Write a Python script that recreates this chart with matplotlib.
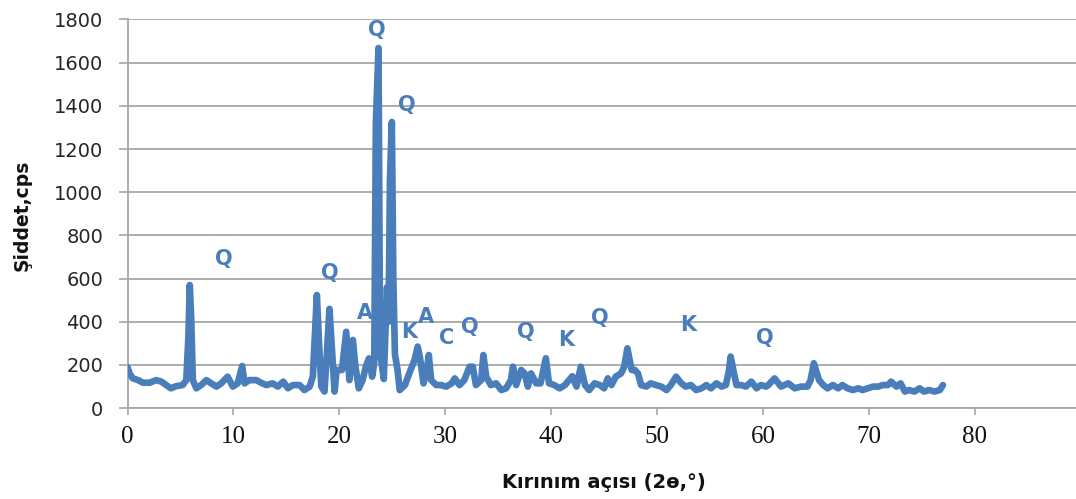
import matplotlib
matplotlib.use("Agg")
import matplotlib.pyplot as plt

# XRD pattern (2-theta, counts per second)
two_theta = [0.0, 0.2, 0.5, 1.0, 1.45, 2.1, 2.7, 3.2, 3.65, 4.1, 4.6, 5.2, 5.55, 5.75, 5.88,
             6.02, 6.17, 6.5, 6.95, 7.45, 7.9, 8.4, 8.85, 9.45, 9.95, 10.4, 10.83, 11.05,
             11.5, 12.15, 12.6, 13.1, 13.7, 14.2, 14.7, 15.15, 15.6, 16.25, 16.7, 17.2,
             17.5, 17.88, 18.13, 18.3, 18.6, 18.82, 19.07, 19.33, 19.55, 19.75, 20.25,
             20.65, 20.95, 21.28, 21.5, 21.84, 22.2, 22.5, 22.8, 23.1, 23.3, 23.45, 23.7,
             23.85, 24.2, 24.5, 24.65, 24.78, 24.96, 25.1, 25.25, 25.5, 25.7, 26.2, 26.6,
             27.1, 27.4, 27.6, 27.95, 28.25, 28.45, 28.67, 29.15, 29.6, 30.1, 30.6, 30.9,
             31.35, 31.8, 32.3, 32.6, 32.9, 33.4, 33.6, 33.87, 34.3, 34.8, 35.3, 35.75,
             36.2, 36.4, 36.7, 37.17, 37.5, 37.8, 38.1, 38.6, 39.0, 39.5, 39.8, 40.3,
             40.8, 41.3, 41.7, 42.0, 42.4, 42.8, 43.2, 43.6, 44.1, 44.6, 45.0, 45.35,
             45.7, 46.1, 46.6, 46.9, 47.2, 47.6, 47.9, 48.2, 48.5, 49.0, 49.4, 49.9,
             50.4, 50.9, 51.3, 51.8, 52.3, 52.7, 53.2, 53.7, 54.2, 54.65, 55.1, 55.6,
             56.1, 56.5, 56.8, 56.95, 57.2, 57.5, 57.95, 58.4, 58.9, 59.4, 59.8, 60.3,
             60.5, 61.1, 61.7, 62.4, 63.0, 63.6, 64.2, 64.5, 64.8, 65.0, 65.3, 65.7,
             66.1, 66.6, 67.1, 67.5, 68.0, 68.5, 69.0, 69.4, 69.9, 70.4, 70.9, 71.3,
             71.8, 72.1, 72.6, 73.0, 73.4, 73.8, 74.3, 74.8, 75.2, 75.7, 76.2, 76.7, 77.0]
intensity = [190, 160, 138, 130, 118, 118, 130, 123, 107, 92, 102, 107, 130, 330, 570,
             408, 130, 92, 107, 130, 115, 100, 115, 146, 100, 115, 195, 115,
             130, 130, 118, 107, 115, 100, 123, 92, 107, 107, 84, 100,
             146, 524, 254, 100, 77, 250, 460, 250, 77, 177, 177,
             354, 130, 316, 200, 92, 130, 192, 231, 146, 210, 1320, 1668,
             260, 135, 560, 400, 1056, 1325, 600, 250, 177, 84, 107, 161,
             223, 285, 239, 115, 177, 246, 130, 107, 107, 100, 115, 138,
             107, 130, 192, 192, 107, 130, 246, 146, 107, 115, 84, 92,
             130, 192, 107, 177, 161, 100, 161, 115, 115, 231, 115, 107,
             92, 107, 130, 148, 100, 192, 107, 84, 115, 107, 92, 138,
             107, 146, 161, 192, 277, 177, 177, 161, 107, 100, 115, 107,
             100, 84, 107, 146, 115, 100, 107, 84, 92, 107, 92, 115,
             100, 107, 177, 239, 177, 107, 107, 100, 123, 92, 107, 100,
             107, 138, 100, 115, 92, 100, 100, 130, 208, 177, 130, 107,
             92, 107, 92, 107, 92, 84, 92, 84, 92, 100, 100, 107,
             107, 123, 100, 115, 77, 84, 77, 92, 77, 84, 77, 84, 107]

# phase labels placed over the peaks
phase_names = ["Q", "Q", "Q", "Q", "A", "K", "A", "C", "Q", "Q", "K", "Q", "K", "Q"]
phase_x = [23.5, 26.4, 9.1, 19.1, 22.4, 26.6, 28.2, 30.15, 32.3, 37.65, 41.4, 44.6, 52.9, 60.15]
phase_y = [1751, 1404, 691, 627, 439, 354, 424, 324, 377, 354, 316, 416, 385, 324]

x_ticks = [0, 10, 20, 30, 40, 50, 60, 70, 80]
y_ticks = [0, 200, 400, 600, 800, 1000, 1200, 1400, 1600, 1800]

blue = "#4a7ebb"
grid_col = "#a6a6a6"

fig = plt.figure(figsize=(10.76, 4.99), dpi=100)
ax = fig.add_axes([0.1185, 0.182, 0.8815, 0.779])

ax.plot(two_theta, intensity, color=blue, lw=4.8, solid_joinstyle="round",
        solid_capstyle="round", zorder=3)

for name, px, py in zip(phase_names, phase_x, phase_y):
    ax.text(px, py, name, color=blue, fontsize=15, fontweight="heavy",
            ha="center", va="center", zorder=4)

ax.set_xlim(0, 89.56)
ax.set_ylim(0, 1800)
ax.set_xticks(x_ticks)
ax.set_yticks(y_ticks)
ax.set_xticklabels([str(t) for t in x_ticks], family="Liberation Serif", fontsize=18,
                   color="#111111")
ax.set_yticklabels([str(t) for t in y_ticks], family="DejaVu Sans", fontsize=14,
                   color="#262626")
ax.tick_params(axis="x", direction="out", length=5, width=1.2, color=grid_col, pad=8)
ax.tick_params(axis="y", direction="out", length=6.5, width=1.2, color=grid_col, pad=11)

ax.grid(axis="y", color=grid_col, lw=1.3)
ax.set_axisbelow(True)
for side in ["top", "right"]:
    ax.spines[side].set_visible(False)
for side in ["left", "bottom"]:
    ax.spines[side].set_color(grid_col)
    ax.spines[side].set_linewidth(1.3)

fig.text(604 / 1076, 1 - 482 / 499, "Kırınım açısı (2ɵ,°)", fontsize=14,
         fontweight="bold", ha="center", va="center", color="#111111")
fig.text(21.7 / 1076, 1 - 215 / 499, "Şiddet,cps", fontsize=13.5, fontweight="bold",
         rotation=90, ha="center", va="center", color="#111111")

fig.savefig("out.png", dpi=100)
